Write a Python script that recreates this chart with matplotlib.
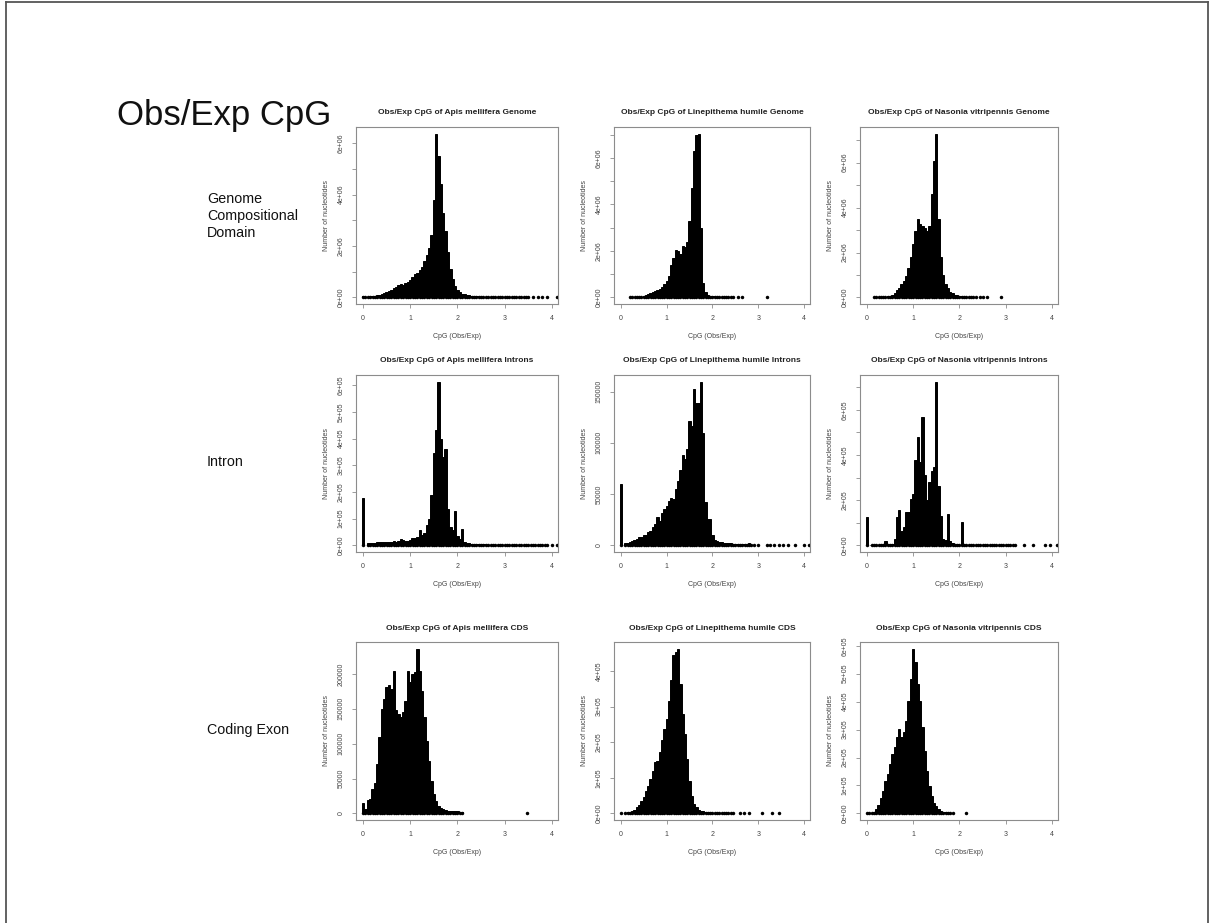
import numpy as np
import matplotlib
matplotlib.use("Agg")
import matplotlib.pyplot as plt
from matplotlib.lines import Line2D

plt.rcParams['font.family'] = ['Liberation Sans', 'DejaVu Sans']

BIN = 0.05

species = ["Apis mellifera", "Linepithema humile", "Nasonia vitripennis"]
regions = ["Genome", "Introns", "CDS"]
row_labels = ["Genome\nCompositional\nDomain", "Intron", "Coding Exon"]

# ---------------- Genome ----------------
apis_genome_start = 0.00
apis_genome_counts = np.array([
    0.06, 0.03, 0.03, 0.04, 0.05, 0.07, 0.09, 0.11, 0.14, 0.17,
    0.20, 0.25, 0.30, 0.35, 0.40, 0.48, 0.52, 0.50, 0.55, 0.62,
    0.68, 0.78, 0.92, 0.96, 1.05, 1.20, 1.42, 1.65, 1.92, 2.45,
    3.80, 6.38, 5.50, 4.40, 3.30, 2.60, 1.75, 1.10, 0.70, 0.45,
    0.30, 0.20, 0.15, 0.12, 0.10, 0.08, 0.06, 0.05, 0.04, 0.03,
    0.03, 0.02, 0.02, 0.02, 0.02, 0.015, 0.015, 0.015, 0.01, 0.01,
    0.01, 0.01, 0.01, 0.01, 0.01, 0.01, 0.01, 0.01, 0.01, 0.01,
    0.01]) * 1e6
apis_genome_dots = [3.6, 3.7, 3.8, 3.9, 4.1]

lin_genome_start = 0.20
lin_genome_counts = np.array([
    0.02, 0.02, 0.02, 0.03, 0.03, 0.04, 0.07, 0.10, 0.14, 0.18,
    0.23, 0.27, 0.30, 0.38, 0.45, 0.56, 0.70, 0.93, 1.40, 1.70,
    2.05, 2.00, 1.85, 2.20, 2.15, 2.40, 3.30, 4.70, 6.30, 7.00,
    7.05, 3.00, 0.60, 0.22, 0.12, 0.08, 0.05, 0.04, 0.03, 0.03,
    0.02, 0.02, 0.02, 0.01, 0.01, 0.01]) * 1e6
lin_genome_dots = [2.55, 2.65, 3.2]

nas_genome_start = 0.15
nas_genome_counts = np.array([
    0.01, 0.01, 0.02, 0.02, 0.03, 0.04, 0.05, 0.07, 0.13, 0.22,
    0.32, 0.44, 0.58, 0.74, 0.96, 1.33, 1.78, 2.37, 2.96, 3.48,
    3.26, 3.20, 3.10, 2.96, 3.20, 4.60, 6.07, 7.30, 3.50, 1.80,
    1.00, 0.60, 0.40, 0.25, 0.18, 0.12, 0.09, 0.06, 0.04, 0.03,
    0.02, 0.02, 0.01, 0.01, 0.01]) * 1e6
nas_genome_dots = [2.45, 2.5, 2.6, 2.9]

# ---------------- Introns ----------------
apis_intron_start = 0.00
apis_intron_counts = np.array([
    1.77, 0.00, 0.08, 0.08, 0.10, 0.10, 0.12, 0.14, 0.12, 0.13,
    0.14, 0.13, 0.14, 0.15, 0.14, 0.16, 0.24, 0.20, 0.18, 0.18,
    0.20, 0.28, 0.26, 0.30, 0.56, 0.40, 0.45, 0.77, 1.00, 1.90,
    3.47, 4.30, 6.13, 4.00, 3.30, 3.60, 1.36, 0.68, 0.56, 1.30,
    0.37, 0.25, 0.62, 0.14, 0.10, 0.08, 0.07, 0.06, 0.05, 0.05,
    0.04, 0.04, 0.03, 0.03, 0.03, 0.03, 0.03, 0.02, 0.02, 0.02,
    0.02, 0.02, 0.02, 0.02, 0.015, 0.015, 0.015, 0.015, 0.01, 0.01,
    0.01, 0.01, 0.01, 0.01, 0.01, 0.01, 0.01, 0.01, 0.01]) * 1e5
apis_intron_dots = [4.0, 4.1]

lin_intron_start = 0.00
lin_intron_counts = np.array([
    5.97, 0.00, 0.23, 0.28, 0.32, 0.40, 0.55, 0.65, 0.80, 0.80,
    0.97, 0.97, 1.35, 1.45, 1.77, 2.10, 2.74, 2.40, 3.20, 3.55,
    3.87, 4.35, 4.60, 4.50, 5.50, 6.30, 7.40, 8.80, 8.40, 9.35,
    12.10, 11.60, 15.20, 13.90, 13.90, 15.97, 11.00, 4.20, 2.60, 2.60,
    1.00, 0.50, 0.40, 0.35, 0.30, 0.28, 0.25, 0.22, 0.20, 0.18,
    0.15, 0.12, 0.10, 0.10, 0.10, 0.15, 0.25, 0.08, 0.05]) * 1e4
lin_intron_dots = [3.0, 3.2, 3.25, 3.35, 3.45, 3.55, 3.65, 3.8, 4.0, 4.1]

nas_intron_start = 0.00
nas_intron_counts = np.array([
    1.25, 0.00, 0.02, 0.02, 0.03, 0.03, 0.03, 0.04, 0.18, 0.08,
    0.06, 0.08, 0.30, 1.25, 1.55, 0.66, 0.80, 1.47, 1.47, 2.06,
    2.28, 3.80, 4.78, 3.68, 5.70, 3.10, 2.00, 2.80, 3.30, 3.45,
    7.25, 2.65, 1.32, 0.30, 0.22, 1.40, 0.18, 0.10, 0.06, 0.05,
    0.04, 1.03, 0.03, 0.03, 0.03, 0.03, 0.02, 0.02, 0.02, 0.02,
    0.02, 0.02, 0.02, 0.015, 0.015, 0.015, 0.01, 0.01, 0.01, 0.01,
    0.01, 0.01, 0.01, 0.01, 0.01]) * 1e5
nas_intron_dots = [3.4, 3.6, 3.85, 3.95, 4.1]

# ---------------- CDS ----------------
apis_cds_start = 0.00
apis_cds_counts = np.array([
    1.54, 0.58, 1.90, 2.00, 3.46, 4.40, 7.07, 10.90, 15.00, 16.40,
    18.10, 18.40, 17.90, 20.50, 14.80, 14.30, 13.80, 14.50, 16.20, 20.50,
    18.80, 20.00, 20.30, 23.65, 20.50, 17.60, 13.80, 10.40, 7.50, 4.66,
    2.74, 1.78, 1.06, 0.82, 0.58, 0.50, 0.40, 0.35, 0.30, 0.35,
    0.30, 0.20, 0.15]) * 1e4
apis_cds_dots = [3.47]

lin_cds_start = 0.10
lin_cds_counts = np.array([
    0.02, 0.03, 0.05, 0.07, 0.10, 0.17, 0.24, 0.36, 0.47, 0.62,
    0.78, 0.97, 1.18, 1.44, 1.48, 1.72, 2.05, 2.38, 2.66, 3.17,
    3.74, 4.44, 4.53, 4.63, 3.64, 2.80, 2.23, 1.53, 0.92, 0.50,
    0.26, 0.17, 0.10, 0.075, 0.055, 0.04, 0.03, 0.03, 0.02, 0.02,
    0.02, 0.015, 0.01, 0.01, 0.01, 0.01, 0.01, 0.01]) * 1e5
lin_cds_dots = [0.0, 2.6, 2.68, 2.8, 3.08, 3.3, 3.45]

nas_cds_start = 0.05
nas_cds_counts = np.array([
    0.01, 0.02, 0.06, 0.14, 0.30, 0.56, 0.80, 1.16, 1.40, 1.76,
    2.12, 2.36, 2.72, 3.02, 2.72, 2.90, 3.32, 4.04, 4.82, 5.90,
    5.42, 4.64, 4.04, 3.08, 2.24, 1.52, 0.98, 0.62, 0.38, 0.26,
    0.14, 0.08, 0.05, 0.04, 0.03, 0.02, 0.02]) * 1e5
nas_cds_dots = [0.0, 2.15]

# y ticks (values, labels)
yt_e6_6 = ([0, 1e6, 2e6, 3e6, 4e6, 5e6, 6e6], ["0e+00", "", "2e+06", "", "4e+06", "", "6e+06"])
yt_e6_7 = ([0, 1e6, 2e6, 3e6, 4e6, 5e6, 6e6, 7e6], ["0e+00", "", "2e+06", "", "4e+06", "", "6e+06", ""])
yt_apis_intron = ([0, 1e5, 2e5, 3e5, 4e5, 5e5, 6e5],
                  ["0e+00", "1e+05", "2e+05", "3e+05", "4e+05", "5e+05", "6e+05"])
yt_lin_intron = ([0, 50000, 100000, 150000], ["0", "50000", "100000", "150000"])
yt_nas_intron = ([0, 1e5, 2e5, 3e5, 4e5, 5e5, 6e5, 7e5],
                 ["0e+00", "", "2e+05", "", "4e+05", "", "6e+05", ""])
yt_apis_cds = ([0, 50000, 100000, 150000, 200000], ["0", "50000", "100000", "150000", "200000"])
yt_lin_cds = ([0, 1e5, 2e5, 3e5, 4e5], ["0e+00", "1e+05", "2e+05", "3e+05", "4e+05"])
yt_nas_cds = ([0, 1e5, 2e5, 3e5, 4e5, 5e5, 6e5],
              ["0e+00", "1e+05", "2e+05", "3e+05", "4e+05", "5e+05", "6e+05"])

panels = [
    [(apis_genome_start, apis_genome_counts, apis_genome_dots, yt_e6_6),
     (lin_genome_start, lin_genome_counts, lin_genome_dots, yt_e6_7),
     (nas_genome_start, nas_genome_counts, nas_genome_dots, yt_e6_7)],
    [(apis_intron_start, apis_intron_counts, apis_intron_dots, yt_apis_intron),
     (lin_intron_start, lin_intron_counts, lin_intron_dots, yt_lin_intron),
     (nas_intron_start, nas_intron_counts, nas_intron_dots, yt_nas_intron)],
    [(apis_cds_start, apis_cds_counts, apis_cds_dots, yt_apis_cds),
     (lin_cds_start, lin_cds_counts, lin_cds_dots, yt_lin_cds),
     (nas_cds_start, nas_cds_counts, nas_cds_dots, yt_nas_cds)],
]

W, H = 1210, 923
fig = plt.figure(figsize=(W / 100, H / 100), dpi=100)

# slide frame
fig.add_artist(Line2D([6 / W, 1208 / W], [1 - 2 / H, 1 - 2 / H], color="#555555", lw=1.3))
fig.add_artist(Line2D([6 / W, 6 / W], [0, 1 - 2 / H], color="#555555", lw=1.3))
fig.add_artist(Line2D([1208 / W, 1208 / W], [0, 1 - 2 / H], color="#555555", lw=1.3))

fig.text(117 / W, 1 - 116 / H, "Obs/Exp CpG", fontsize=25, ha="left", va="center", color="#111111")
row_centers = [216, 462, 730]
for lab, yc in zip(row_labels, row_centers):
    fig.text(207 / W, 1 - yc / H, lab, fontsize=10.3, ha="left", va="center",
             linespacing=1.25, color="#111111")

col_l = [356, 614, 860]
col_r = [558, 810, 1058]
row_t = [127, 375, 642]
row_b = [304, 552, 820]

grey = "#8c8c8c"
for r in range(3):
    for c in range(3):
        start, counts, dots, yt = panels[r][c]
        ax = fig.add_axes([col_l[c] / W, 1 - row_b[r] / H,
                           (col_r[c] - col_l[c]) / W, (row_b[r] - row_t[r]) / H])
        x = start + BIN * np.arange(len(counts))
        pos = counts > 0
        ax.bar(x[pos], counts[pos], width=BIN, color="black", edgecolor="black",
               linewidth=0.7)
        ax.plot(x[pos], np.zeros(pos.sum()), "o", ms=2.5, color="black", mew=0)
        ax.plot(dots, np.zeros(len(dots)), "o", ms=2.5, color="black", mew=0)
        M = counts.max()
        ax.set_ylim(-0.04 * M, 1.04 * M)
        ax.set_xlim(-0.15, 4.13)
        ax.set_xticks([0, 1, 2, 3, 4])
        ax.set_yticks(yt[0])
        ax.set_yticklabels(yt[1], rotation=90, va="center")
        for s in ax.spines.values():
            s.set_color(grey)
            s.set_linewidth(0.8)
        ax.tick_params(direction="out", length=3, width=0.6, color=grey,
                       labelsize=5, labelcolor="#444444", pad=5)
        ax.set_title(f"Obs/Exp CpG of {species[c]} {regions[r]}", fontsize=6,
                     fontweight="bold", pad=9, color="#222222")
        ax.set_xlabel("CpG (Obs/Exp)", fontsize=5, color="#444444", labelpad=8)
        ax.set_ylabel("Number of nucleotides", fontsize=5, color="#444444", labelpad=6)

fig.savefig("out.png", dpi=100)
